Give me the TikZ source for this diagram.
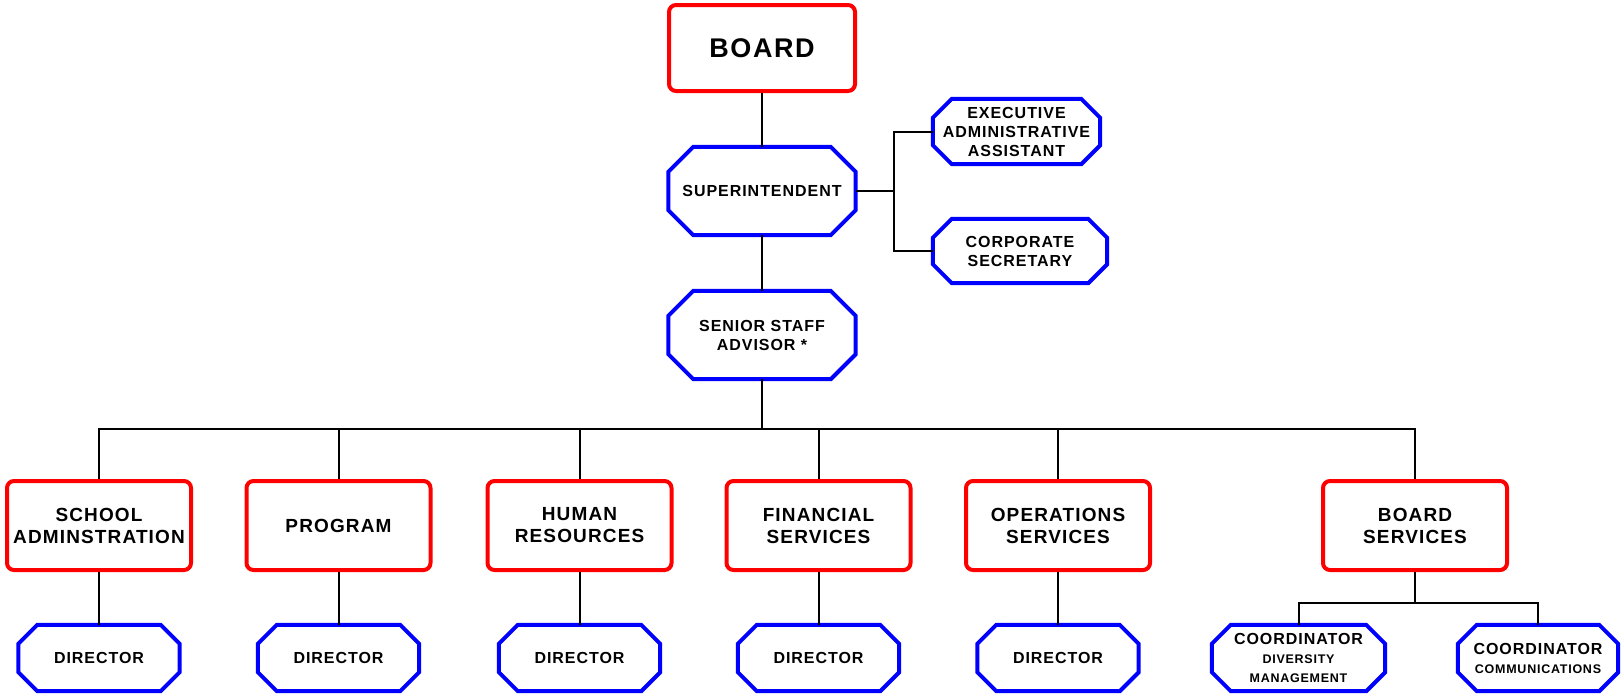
\documentclass[tikz,border=0pt]{standalone}
\usepackage{fontspec}
\setmainfont{Liberation Sans}[LetterSpace=6]

\tikzset{
  unit/.style={draw=red, line width=4pt, rounded corners=7pt, align=center,
    inner sep=0pt, minimum width=184pt, minimum height=89pt,
    font=\bfseries\fontsize{19}{22}\selectfont},
  post/.style={align=center, inner sep=0pt,
    minimum width=161pt, minimum height=66pt,
    font=\bfseries\fontsize{16}{19}\selectfont},
  bigpost/.style={post, minimum width=187pt, minimum height=88pt},
  octline/.style={draw=blue, line width=4pt, line join=miter},
  link/.style={line width=2pt}
}

% octagon round a named node, #2 = size of the cut corners
\newcommand\octagon[2]{%
  \draw[octline] ([xshift=#2]#1.north west) -- ([xshift=-#2]#1.north east)
    -- ([yshift=-#2]#1.north east) -- ([yshift=#2]#1.south east)
    -- ([xshift=-#2]#1.south east) -- ([xshift=#2]#1.south west)
    -- ([yshift=#2]#1.south west) -- ([yshift=-#2]#1.north west) -- cycle;}

\begin{document}
\begin{tikzpicture}[x=1pt,y=-1pt]
    \useasboundingbox (0,0) rectangle (1621,694);

    % top of the chart
    \node[unit, minimum width=186pt, minimum height=86pt,
      font=\bfseries\fontsize{27}{30}\selectfont] (board) at (762,48) {BOARD};
    \node[bigpost] (supt) at (762,191) {SUPERINTENDENT};
    \node[bigpost] (senior) at (762,335) {SENIOR STAFF\\ADVISOR *};
    \node[post, minimum width=167pt, minimum height=65pt] (exec) at (1016.5,131.5)
      {EXECUTIVE\\ADMINISTRATIVE\\ASSISTANT};
    \node[post, minimum width=174pt, minimum height=64pt] (corpsec) at (1020,251)
      {CORPORATE\\SECRETARY};
    \octagon{supt}{25pt}
    \octagon{senior}{25pt}
    \octagon{exec}{19pt}
    \octagon{corpsec}{19pt}

    \coordinate (sbr) at (894,191);
    \coordinate (bus) at (762,429);

    \draw[link] (board) -- (supt);
    \draw[link] (supt) -- (senior);
    \draw[link] (supt) -- (sbr);
    \draw[link] (sbr) |- (exec);
    \draw[link] (sbr) |- (corpsec);
    \draw[link] (senior) -- (bus);

    % departments
    \foreach \n/\x/\t in {school/99/{SCHOOL\\ADMINSTRATION}, program/338.5/{PROGRAM},
      hr/579.5/{HUMAN\\RESOURCES}, finance/818.5/{FINANCIAL\\SERVICES},
      ops/1058/{OPERATIONS\\SERVICES}, bserv/1415/{BOARD\\SERVICES}} {
      \node[unit] (\n) at (\x,525.5) {\t};
      \draw[link] (bus) -| (\n);
    }

    \foreach \n/\x in {school/99, program/338.5, hr/579.5, finance/818.5, ops/1058} {
      \node[post] (dir-\n) at (\x,658) {DIRECTOR};
      \octagon{dir-\n}{19pt}
      \draw[link] (\n) -- (dir-\n);
    }

    % board services
    \node[post, minimum width=173pt] (coorddiv) at (1298.5,658)
      {COORDINATOR\\{\fontsize{12.5}{16}\selectfont DIVERSITY}\\{\fontsize{12.5}{16}\selectfont MANAGEMENT}};
    \node[post, minimum width=160pt] (coordcom) at (1538,658)
      {COORDINATOR\\{\fontsize{12.5}{16}\selectfont COMMUNICATIONS}};
    \octagon{coorddiv}{19pt}
    \octagon{coordcom}{19pt}

    \coordinate (bsbus) at (1415,603);
    \draw[link] (bserv) -- (bsbus);
    \draw[link] (bsbus) -| (coorddiv);
    \draw[link] (bsbus) -| (coordcom);
  \end{tikzpicture}
\end{document}
